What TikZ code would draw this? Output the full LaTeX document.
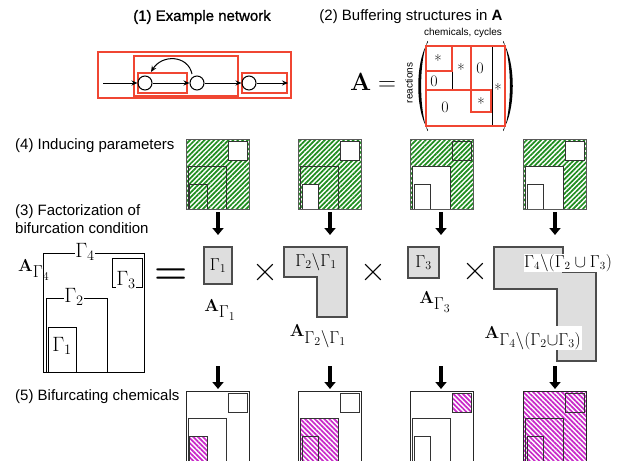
\documentclass[tikz,border=0pt]{standalone}
\usepackage[no-math]{fontspec}
\newfontfamily\arial{Liberation Sans}
\usetikzlibrary{arrows.meta,patterns.meta}
\definecolor{netred}{RGB}{240,70,50}
\definecolor{hgreen}{RGB}{30,140,30}
\definecolor{hmag}{RGB}{200,40,200}
\definecolor{lgray}{RGB}{222,222,222}
\newcommand\Asub[1]{\mathbf{A}_{\textstyle #1}}
\tikzset{
 lbl/.style={font=\arial\fontsize{15}{18}\selectfont, inner sep=0pt},
 redbox/.style={draw=netred, line width=1.2pt},
 circ/.style={circle, draw, line width=1pt, minimum size=14pt, inner sep=0pt},
 flow/.style={-{Stealth[length=6pt,width=5pt]}, line width=1pt},
 fatarrow/.style={-{Triangle[length=7pt,width=11pt]}, line width=3.5pt},
 ghatch/.style={pattern={Lines[angle=45,distance=3.4pt,line width=1.7pt]}, pattern color=hgreen},
 mhatch/.style={pattern={Lines[angle=-45,distance=3.4pt,line width=1.7pt]}, pattern color=hmag},
 sqline/.style={draw=black!80, line width=0.9pt},
 outline/.style={draw=black!65, line width=1pt},
 factor/.style={draw=black!70, fill=lgray, line width=1.2pt},
 mlbl/.style={font=\fontsize{16}{19}\selectfont, inner sep=1pt},
 boxlbl/.style={font=\fontsize{17.28}{20}\selectfont, inner sep=1pt},
 alab/.style={font=\fontsize{17.28}{20}\selectfont, inner sep=1pt},
 leftlbl/.style={font=\fontsize{20}{24}\selectfont, inner sep=0.5pt},
 mtx/.style={font=\fontsize{16}{19}\selectfont, inner sep=0pt},
 bigsym/.style={inner sep=0pt, font=\fontsize{36}{36}\selectfont},
 paren/.style={fill=black},
}
\begin{document}
\begin{tikzpicture}[x=1pt,y=-1pt]
\useasboundingbox (0,0) rectangle (617,460);
\clip (0,0) rectangle (617,460);

% ---------- (1) Example network ----------
\node[lbl] (t1) at (202,17) {\addfontfeature{FakeBold=1}(1) Example network};
\draw[redbox] (98,52) rectangle (291,98);
\draw[redbox] (134,56) rectangle (238,96);
\draw[redbox] (138,73) rectangle (187,93);
\draw[redbox] (242,73) rectangle (287,93);
\node[circ] (c1) at (145,83) {};
\node[circ] (c2) at (197,83) {};
\node[circ] (c3) at (249,83) {};
\coordinate (nin) at (103,83);
\coordinate (nout) at (288,83);
\coordinate (cs) at (192,74);
\coordinate (ce) at (151,72);
\draw[flow] (nin) -- (c1);
\draw[flow] (c1) -- (c2);
\draw[flow] (c2) -- (c3);
\draw[flow] (c3) -- (nout);
\draw[flow] (cs) .. controls (188,55) and (162,54) .. (ce);

% ---------- (2) Buffering structures ----------
\node[lbl] (t2) at (411,17) {(2) Buffering structures in \textbf{A}};
\node[font=\arial\fontsize{10}{12}\selectfont, inner sep=0pt] (chem) at (463,33) {chemicals, cycles};
\node[font=\arial\fontsize{10}{12}\selectfont, inner sep=0pt, rotate=90] (reac) at (409,83) {reactions};
\node[font=\fontsize{25}{28}\selectfont, inner sep=0pt] (Aeq) at (373,82) {$\mathbf{A} =$};
\path[paren] (428,42) .. controls (415,62) and (415,110) .. (428,130) -- (427.5,131)
   .. controls (419,110) and (419,62) .. (427.5,41) -- cycle;
\path[paren] (503,42) .. controls (516,62) and (516,110) .. (503,130) -- (503.5,131)
   .. controls (512,110) and (512,62) .. (503.5,41) -- cycle;
\draw[black, line width=0.8pt] (452,46) -- (452,90);
\draw[black, line width=0.8pt] (492,46) -- (492,126);
\draw[redbox] (426,46) rectangle (505,126);
\draw[redbox] (426,46) rectangle (471,90);
\draw[redbox] (426,46) rectangle (452,71);
\draw[redbox] (471,90) rectangle (491,112);
\node[mtx] (m1) at (438,61) {*};
\node[mtx] (m2) at (434,81) {0};
\node[mtx] (m3) at (461,70) {*};
\node[mtx] (m4) at (480,68) {0};
\node[mtx] (m5) at (498,90) {*};
\node[mtx] (m6) at (445,107) {0};
\node[mtx] (m7) at (481,104) {*};

% ---------- (4) Inducing parameters ----------
\node[lbl, anchor=west] (t4) at (15,146) {(4) Inducing parameters};
% square 1
\begin{scope}[shift={(186,139)}]
\path[ghatch] (0,0) rectangle (63,70);
\draw[sqline, fill=white] (42,2) rectangle (61,21);
\draw[sqline] (2,27) rectangle (40,70);
\draw[sqline] (3,45) rectangle (21,70);
\draw[outline] (0,0) rectangle (63,70);
\end{scope}
% square 2
\begin{scope}[shift={(298,139)}]
\path[ghatch] (0,0) rectangle (63,70);
\draw[sqline, fill=white] (42,2) rectangle (61,21);
\draw[sqline] (2,27) rectangle (40,70);
\draw[sqline, fill=white] (4,45) rectangle (20,70);
\draw[outline] (0,0) rectangle (63,70);
\end{scope}
% square 3
\begin{scope}[shift={(410,139)}]
\path[ghatch] (0,0) rectangle (63,70);
\draw[sqline] (42,2) rectangle (61,21);
\draw[sqline, fill=white] (2,27) rectangle (40,70);
\draw[sqline] (4,45) rectangle (20,70);
\draw[outline] (0,0) rectangle (63,70);
\end{scope}
% square 4
\begin{scope}[shift={(523,139)}]
\path[ghatch] (0,0) rectangle (63,70);
\draw[sqline, fill=white] (42,2) rectangle (61,21);
\draw[sqline, fill=white] (2,27) rectangle (40,70);
\draw[sqline] (4,45) rectangle (20,70);
\draw[outline] (0,0) rectangle (63,70);
\end{scope}
\coordinate (a1s) at (218,212); \coordinate (a1e) at (218,235);
\coordinate (a2s) at (330,212); \coordinate (a2e) at (330,235);
\coordinate (a3s) at (441,212); \coordinate (a3e) at (441,235);
\coordinate (a4s) at (555,212); \coordinate (a4e) at (555,235);
\draw[fatarrow] (a1s) -- (a1e);
\draw[fatarrow] (a2s) -- (a2e);
\draw[fatarrow] (a3s) -- (a3e);
\draw[fatarrow] (a4s) -- (a4e);

% ---------- (3) Factorization ----------
\node[lbl, anchor=west, align=left] (t3) at (15,219) {(3) Factorization of\\bifurcation condition};
\draw[black, line width=0.8pt] (43,253) rectangle (144,372);
\draw[black, line width=0.8pt] (112,258) rectangle (142,287);
\draw[black, line width=0.8pt] (46,298) rectangle (107,372);
\draw[black, line width=0.8pt] (48,327) rectangle (76,372);
\node[leftlbl, fill=white] (lg4) at (85,252) {$\Gamma_4$};
\node[leftlbl, fill=white] (lg3) at (126,280) {$\Gamma_3$};
\node[leftlbl, fill=white] (lg2) at (74,297) {$\Gamma_2$};
\node[leftlbl] (lg1) at (62,346) {$\Gamma_1$};
\node[alab] (lA4) at (34,270) {$\Asub{\Gamma_4}$};
\node[inner sep=0pt, font=\fontsize{38}{38}\selectfont\bfseries] (eqsign) at (171,276) {=};

\node[factor, boxlbl, minimum width=28pt, minimum height=37pt] (g1) at (218,265.5) {$\Gamma_1$};
\node[alab] (A1) at (220,310) {$\Asub{\Gamma_1}$};
\node[bigsym] (x1) at (265,273) {×};

\draw[factor] (284,247) -- (347,247) -- (347,317) -- (317,317) -- (317,277) -- (284,277) -- cycle;
\node[boxlbl] (g21) at (316,262) {$\Gamma_2\backslash\Gamma_1$};
\node[alab] (A21) at (318,336) {$\Asub{\Gamma_2{\backslash}\Gamma_1}$};
\node[bigsym] (x2) at (373,273) {×};

\node[factor, boxlbl, minimum width=31pt, minimum height=31pt] (g3) at (423.5,262.5) {$\Gamma_3$};
\node[alab] (A3) at (435,302) {$\Asub{\Gamma_3}$};
\node[bigsym] (x3) at (475,272) {×};

\draw[factor] (494,247) -- (563,247) -- (563,272) -- (596,272) -- (596,361) -- (557,361) -- (557,289) -- (494,289) -- cycle;
\node[mlbl, fill=white, inner sep=0.5pt] (g4) at (568,263) {$\Gamma_4\backslash(\Gamma_2\cup\Gamma_3)$};
\node[alab, fill=white, inner sep=0.5pt] (A4) at (533,338) {$\Asub{\Gamma_4{\backslash}(\Gamma_2{\cup}\Gamma_3)}$};

% ---------- (5) Bifurcating chemicals ----------
\node[lbl, anchor=west] (t5) at (15,397) {(5) Bifurcating chemicals};
\coordinate (b1s) at (218,366); \coordinate (b1e) at (218,389);
\coordinate (b2s) at (330,366); \coordinate (b2e) at (330,389);
\coordinate (b3s) at (441,366); \coordinate (b3e) at (441,389);
\coordinate (b4s) at (555,366); \coordinate (b4e) at (555,389);
\draw[fatarrow] (b1s) -- (b1e);
\draw[fatarrow] (b2s) -- (b2e);
\draw[fatarrow] (b3s) -- (b3e);
\draw[fatarrow] (b4s) -- (b4e);
% square 1
\begin{scope}[shift={(186,391)}]
\draw[outline, draw=black!85] (0,0) rectangle (63,70);
\draw[sqline] (42,2) rectangle (61,21);
\draw[sqline] (2,27) rectangle (40,70);
\path[mhatch] (3,45) rectangle (21,70);
\draw[sqline] (3,45) rectangle (21,70);
\end{scope}
% square 2
\begin{scope}[shift={(298,391)}]
\draw[outline, draw=black!85] (0,0) rectangle (63,70);
\draw[sqline] (42,2) rectangle (61,21);
\path[mhatch] (2,27) rectangle (40,70);
\draw[sqline] (2,27) rectangle (40,70);
\draw[sqline] (4,45) rectangle (20,70);
\end{scope}
% square 3
\begin{scope}[shift={(410,391)}]
\draw[outline, draw=black!85] (0,0) rectangle (63,70);
\path[mhatch] (42,2) rectangle (61,21);
\draw[sqline] (42,2) rectangle (61,21);
\draw[sqline] (2,27) rectangle (40,70);
\draw[sqline] (4,45) rectangle (20,70);
\end{scope}
% square 4
\begin{scope}[shift={(523,391)}]
\path[mhatch] (0,0) rectangle (63,70);
\draw[sqline] (42,2) rectangle (61,21);
\draw[sqline] (2,27) rectangle (40,70);
\draw[sqline] (4,45) rectangle (20,70);
\draw[outline, draw=black!85] (0,0) rectangle (63,70);
\end{scope}
\end{tikzpicture}
\end{document}
